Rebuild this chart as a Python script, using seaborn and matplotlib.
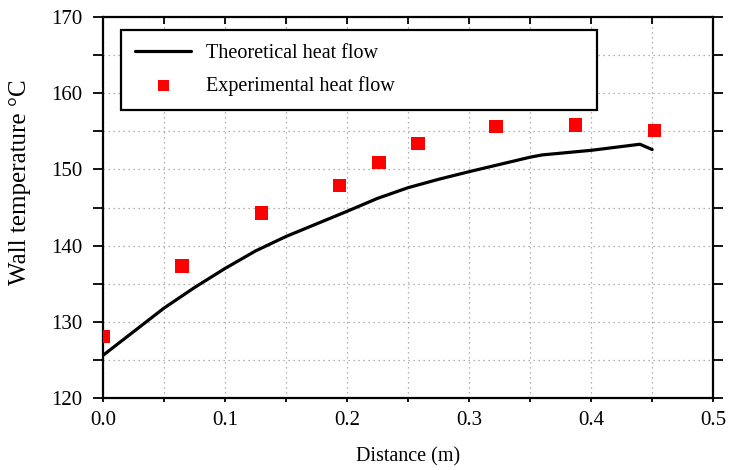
import numpy as np
import pandas as pd
import seaborn as sns
import matplotlib.pyplot as plt
from matplotlib.ticker import MultipleLocator

# theoretical curve
theo_x = [0.0, 0.025, 0.05, 0.075, 0.1, 0.125, 0.15, 0.2, 0.225, 0.25, 0.275, 0.3,
          0.35, 0.36, 0.4, 0.43, 0.44, 0.45]
theo_y = [125.6, 128.7, 131.8, 134.5, 137.0, 139.3, 141.2, 144.5, 146.2, 147.6, 148.7, 149.7,
          151.6, 151.9, 152.5, 153.1, 153.3, 152.6]

# experimental points
exp_x = [0.0, 0.065, 0.13, 0.194, 0.226, 0.258, 0.322, 0.387, 0.452]
exp_y = [128.1, 137.3, 144.3, 147.9, 150.9, 153.4, 155.6, 155.8, 155.1]

theo = pd.DataFrame({"x": theo_x, "y": theo_y})
expt = pd.DataFrame({"x": exp_x, "y": exp_y})

sns.set_theme(style="ticks")
plt.rcParams["font.family"] = ["Liberation Serif", "DejaVu Serif"]
plt.rcParams["text.color"] = "black"
plt.rcParams["axes.labelcolor"] = "black"

fig = plt.figure(figsize=(7.3, 4.7), dpi=100)
ax = fig.add_axes([0.141, 0.153, 0.836, 0.811])

sns.lineplot(data=theo, x="x", y="y", ax=ax, color="black", linewidth=2.3,
             label="Theoretical heat flow")
sns.scatterplot(data=expt, x="x", y="y", ax=ax, color="#ff0000", marker="s",
                s=95, edgecolor="none", label="Experimental heat flow", zorder=3)

ax.set_xlim(0, 0.5)
ax.set_ylim(120, 170)
ax.xaxis.set_major_locator(MultipleLocator(0.1))
ax.xaxis.set_minor_locator(MultipleLocator(0.05))
ax.yaxis.set_major_locator(MultipleLocator(10))
ax.yaxis.set_minor_locator(MultipleLocator(5))
ax.xaxis.set_major_formatter(plt.FormatStrFormatter("%.1f"))

ax.grid(which="both", color="#9a9a9a", linestyle=(0, (1, 3)), linewidth=0.9)

for s in ax.spines.values():
    s.set_linewidth(1.6)
    s.set_color("black")

ax.tick_params(axis="y", which="both", direction="out", length=7, width=1.3,
               labelsize=15, colors="black", pad=8, right=True)
ax.tick_params(axis="x", which="both", direction="out", length=3, width=1.3,
               labelsize=15, colors="black", pad=6, top=True)
# inward ticks on top/right
for t in ax.xaxis.get_major_ticks() + ax.xaxis.get_minor_ticks():
    t.tick2line.set_marker(3)
    t.tick2line.set_markersize(5)
for t in ax.yaxis.get_major_ticks() + ax.yaxis.get_minor_ticks():
    t.tick2line.set_marker(1)
    t.tick2line.set_markersize(7)

ax.set_xlabel("Distance (m)", fontsize=14.5, labelpad=13)
ax.set_ylabel("Wall temperature °C", fontsize=18)
ax.yaxis.set_label_coords(-0.118, 0.567)

leg = ax.legend(loc="upper left", bbox_to_anchor=(0.0295, 0.966, 0.78, 0.0),
                mode="expand", fontsize=14.5, frameon=True, fancybox=False,
                edgecolor="black", handlelength=2.8, handletextpad=0.7,
                labelspacing=0.65, borderpad=0.7, borderaxespad=0.0)
leg.get_frame().set_linewidth(1.6)
leg.get_frame().set_alpha(1)
leg.legend_handles[1].set_sizes([65])

plt.savefig("out.png", dpi=100)
